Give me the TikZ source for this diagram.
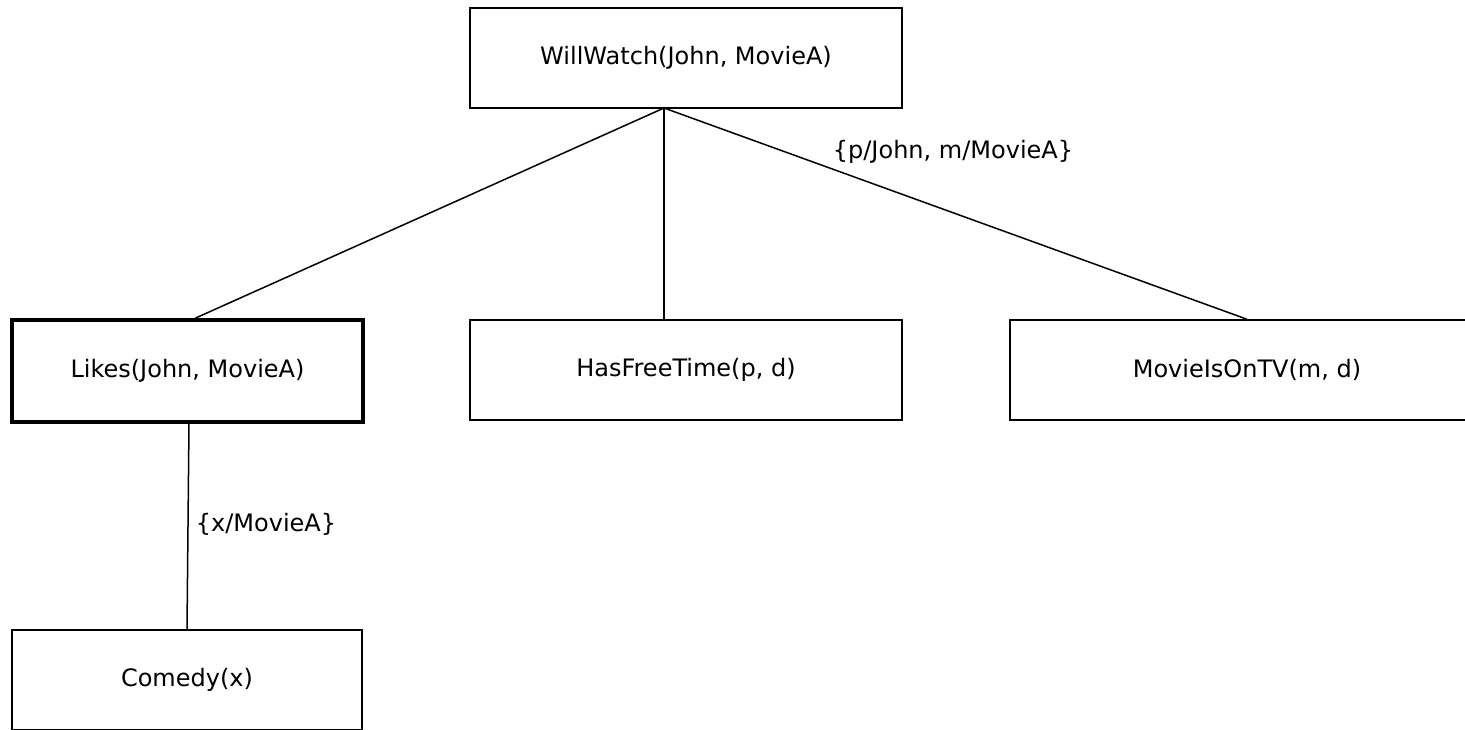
\documentclass[tikz,border=0pt]{standalone}
\usepackage{fontspec}
\setmainfont{DejaVu Sans}
\begin{document}
\begin{tikzpicture}[x=1pt,y=-1pt,
  box/.style={draw, line width=1.5pt, rectangle, minimum width=432pt, minimum height=100pt, inner sep=0pt, font=\fontsize{24}{28}\selectfont},
  boldbox/.style={box, line width=3.4pt},
  link/.style={line width=1.5pt},
  lbl/.style={font=\fontsize{24}{28}\selectfont, inner sep=0pt}]
\useasboundingbox (0,0) rectangle (1465,729);
\begin{scope}
\clip (0,0) rectangle (1465,729);
\node[box] (ww) at (686,58) {WillWatch(John, MovieA)};
\node[boldbox, minimum width=351pt, minimum height=102pt] (likes) at (187.5,371) {Likes(John, MovieA)};
\node[box] (free) at (686,370) {HasFreeTime(p, d)};
\node[box, minimum width=474pt] (tv) at (1247,370) {MovieIsOnTV(m, d)};
\node[box, minimum width=350pt] (comedy) at (187,680) {Comedy(x)};
\coordinate (hub) at (664,108);
\draw[link] (hub) -- (likes.north -| 195,0);
\draw[link] (hub) -- (free.north -| hub);
\draw[link] (hub) -- (tv.north);
\draw[link] (likes.south -| 189,0) -- (comedy.north);
\node[lbl] (sub1) at (953,152) {\{p/John, m/MovieA\}};
\node[lbl] (sub2) at (266,524) {\{x/MovieA\}};
\end{scope}
\end{tikzpicture}
\end{document}
